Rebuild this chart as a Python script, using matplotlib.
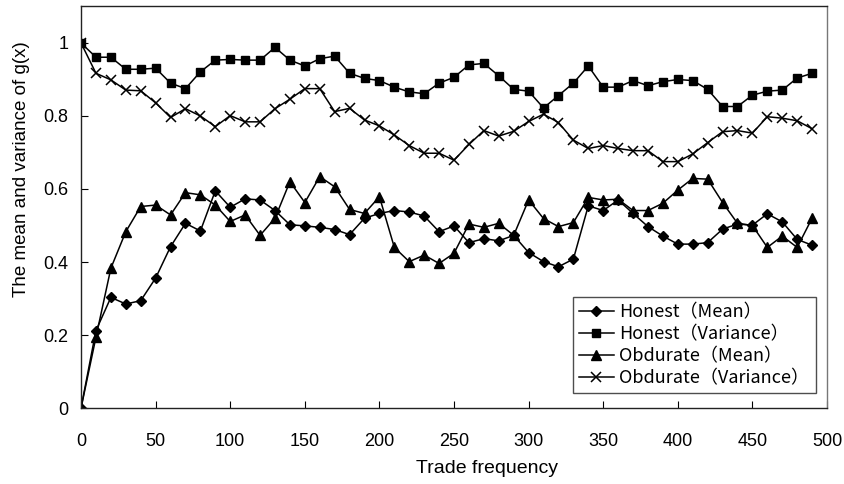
import matplotlib
matplotlib.use("Agg")
import matplotlib.pyplot as plt
import numpy as np

trade = list(range(0, 500, 10))

honest_mean = [0.0, 0.212, 0.303, 0.285, 0.294, 0.356, 0.442, 0.506, 0.485, 0.595,
               0.550, 0.573, 0.570, 0.541, 0.502, 0.499, 0.495, 0.489, 0.475, 0.520,
               0.533, 0.541, 0.537, 0.526, 0.483, 0.499, 0.453, 0.464, 0.458, 0.473,
               0.426, 0.401, 0.387, 0.408, 0.554, 0.541, 0.570, 0.533, 0.497, 0.471,
               0.449, 0.449, 0.453, 0.490, 0.504, 0.501, 0.532, 0.510, 0.462, 0.446]

honest_var = [1.0, 0.961, 0.961, 0.928, 0.928, 0.931, 0.890, 0.875, 0.921, 0.953,
              0.955, 0.953, 0.953, 0.988, 0.953, 0.937, 0.957, 0.964, 0.917, 0.903,
              0.897, 0.879, 0.866, 0.861, 0.890, 0.906, 0.940, 0.944, 0.910, 0.873,
              0.868, 0.822, 0.856, 0.890, 0.937, 0.879, 0.879, 0.897, 0.883, 0.894,
              0.900, 0.897, 0.873, 0.826, 0.826, 0.857, 0.868, 0.871, 0.904, 0.917]

obdurate_mean = [0.0, 0.194, 0.383, 0.483, 0.552, 0.556, 0.529, 0.590, 0.584, 0.556,
                 0.511, 0.529, 0.473, 0.520, 0.620, 0.563, 0.634, 0.606, 0.544, 0.533,
                 0.579, 0.440, 0.401, 0.419, 0.396, 0.424, 0.504, 0.495, 0.506, 0.473,
                 0.570, 0.519, 0.497, 0.508, 0.577, 0.570, 0.572, 0.541, 0.541, 0.561,
                 0.597, 0.629, 0.627, 0.563, 0.506, 0.500, 0.440, 0.471, 0.440, 0.520]

obdurate_var = [1.0, 0.917, 0.899, 0.871, 0.869, 0.836, 0.796, 0.820, 0.800, 0.771,
                0.801, 0.784, 0.784, 0.820, 0.846, 0.875, 0.875, 0.812, 0.821, 0.789,
                0.773, 0.748, 0.719, 0.698, 0.698, 0.679, 0.722, 0.760, 0.745, 0.758,
                0.785, 0.805, 0.782, 0.734, 0.711, 0.719, 0.711, 0.705, 0.705, 0.675,
                0.675, 0.696, 0.727, 0.757, 0.760, 0.753, 0.798, 0.794, 0.787, 0.765]

series_labels = ["Honest（Mean）", "Honest（Variance）",
                 "Obdurate（Mean）", "Obdurate（Variance）"]

x_ticks = [0, 50, 100, 150, 200, 250, 300, 350, 400, 450, 500]
y_ticks = [0, 0.2, 0.4, 0.6, 0.8, 1.0]
y_tick_labels = ["0", "0.2", "0.4", "0.6", "0.8", "1"]

plt.rcParams['font.family'] = ['Liberation Sans', 'DejaVu Sans']

fig = plt.figure(figsize=(8.45, 4.84), dpi=100)
ax = fig.add_axes([0.0959, 0.157, 0.8828, 0.8296])

lw = 1.1
ax.plot(trade, honest_mean, color='black', lw=lw, marker='D', ms=5.2,
        label=series_labels[0])
ax.plot(trade, honest_var, color='black', lw=lw, marker='s', ms=6,
        label=series_labels[1])
ax.plot(trade, obdurate_mean, color='black', lw=lw, marker='^', ms=6.5,
        label=series_labels[2])
ax.plot(trade, obdurate_var, color='black', lw=lw, marker='x', ms=7, mew=1.1,
        label=series_labels[3])

ax.set_xlim(0, 500)
ax.set_ylim(0, 1.1)
ax.set_xticks(x_ticks)
ax.set_yticks(y_ticks)
ax.set_yticklabels(y_tick_labels)
ax.tick_params(axis='x', direction='in', length=5, pad=18, labelsize=13)
ax.tick_params(axis='y', direction='in', length=5, pad=9, labelsize=13)

for side in ['left', 'bottom', 'top']:
    ax.spines[side].set_color('#222222')
ax.spines['right'].set_color('#777777')
for s in ax.spines.values():
    s.set_linewidth(1.0)

ax.set_ylabel("The mean and variance of g(x)", fontsize=13.5)
ax.yaxis.set_label_coords(-0.069, 0.595)
ax.set_xlabel("Trade frequency", fontsize=14)
ax.xaxis.set_label_coords(0.544, -0.130)

leg = ax.legend(loc='lower right', bbox_to_anchor=(0.985, 0.037),
                prop={'family': ['Noto Sans CJK JP', 'DejaVu Sans'], 'size': 13},
                frameon=True, fancybox=False, edgecolor='#222222',
                handlelength=1.95, handletextpad=0.3, labelspacing=0.22,
                borderpad=0.35, borderaxespad=0)
leg.get_frame().set_linewidth(1.0)

fig.savefig("out.png", dpi=100)
